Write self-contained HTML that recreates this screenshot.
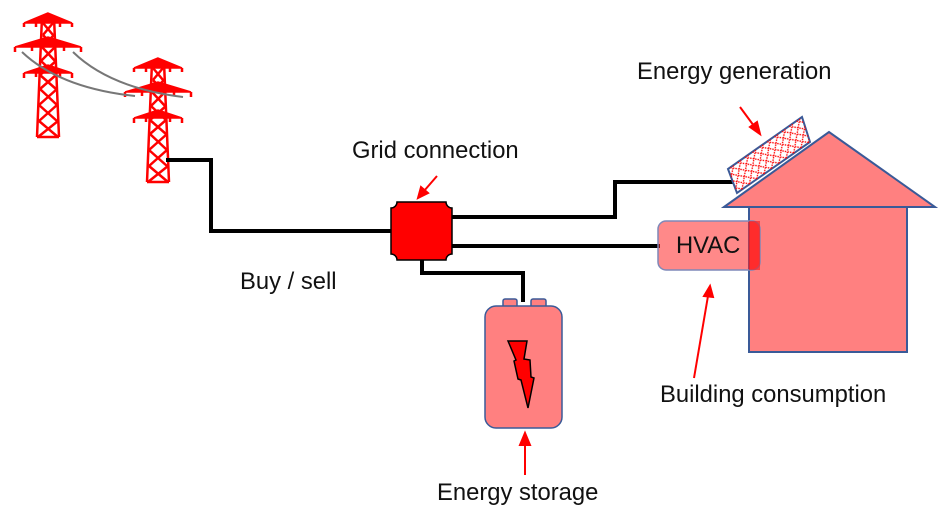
<!DOCTYPE html>
<html><head><style>
body{margin:0;background:#fff;}
svg{display:block}
text{font-family:"Liberation Sans",sans-serif;font-size:23.8px;fill:#111}
</style></head><body>
<svg width="950" height="514" viewBox="0 0 950 514" xmlns="http://www.w3.org/2000/svg">
<defs>
<g id="tw" stroke="#f00" fill="none" stroke-width="2.5">
  <path d="M0,0 L-24,10 L24,10 Z" fill="#f00" stroke-width="1.5"/>
  <path d="M-33,34 L0,24 L33,34 Z" fill="#f00" stroke-width="1.5"/>
  <path d="M-24,60 L0,52 L24,60 Z" fill="#f00" stroke-width="1.5"/>
  <path d="M-6,4 L-11,124 M6,4 L11,124"/>
  <path d="M-5,10 L5,22 M5,10 L-5,22 M-5,22 L6,34 M6,22 L-6,34 M-6,34 L7,48 M7,34 L-7,48 M-7,48 L8,62 M8,48 L-8,62 M-8,62 L8,76 M8,62 L-8,76 M-8,76 L9,92 M9,76 L-9,92 M-9,92 L9,108 M9,92 L-9,108 M-9,108 L10,124 M10,108 L-10,124"/>
  <path d="M-11,124 L11,124 M-24,10 v4 M24,10 v4 M-33,34 v5 M33,34 v5 M-24,60 v5 M24,60 v5 M-12,10 v4 M12,10 v4 M-16,34 v4 M16,34 v4 M-12,60 v4 M12,60 v4"/>
</g>
<pattern id="p" width="9" height="9" patternUnits="userSpaceOnUse" patternTransform="rotate(-35)"><path d="M0,0 L9,9 M9,0 L0,9" stroke="#f00" stroke-width="1.3" stroke-dasharray="1.5,1"/></pattern>
</defs>
<use href="#tw" x="48" y="13"/>
<use href="#tw" x="158" y="58"/>
<path d="M22,52 Q60,88 135,96" stroke="#777" stroke-width="2" fill="none"/>
<path d="M73,52 Q110,88 183,97" stroke="#777" stroke-width="2" fill="none"/>

<g stroke="#000" stroke-width="4" fill="none">
<path d="M166,160 H211 V231 H392"/>
<path d="M450,217 H615 V182 H733"/>
<path d="M450,246 H660"/>
<path d="M422,258 V273 H523 V302"/>
</g>

<path d="M397,202 H446 A6,6 0 0 0 452,208 V254 A6,6 0 0 0 446,260 H397 A6,6 0 0 0 391,254 V208 A6,6 0 0 0 397,202 Z" fill="#f00" stroke="#000" stroke-width="1.5"/>

<rect x="503" y="299" width="14" height="9" rx="2" fill="#ff8080" stroke="#3a5a98" stroke-width="1.5"/>
<rect x="531" y="299" width="15" height="9" rx="2" fill="#ff8080" stroke="#3a5a98" stroke-width="1.5"/>
<rect x="485" y="306" width="77" height="122" rx="11" fill="#ff8080" stroke="#3a5a98" stroke-width="1.5"/>
<path d="M508,341 L527,341 L524,359 L530,360 L531,377 L534,378 L528,408 L521,380 L518,379 L514,361 L516,360 Z" fill="#f00" stroke="#000" stroke-width="1.5" stroke-linejoin="miter"/>

<path d="M724,207 L829,132 L935,207 Z" fill="#ff8080" stroke="#3a5a98" stroke-width="2"/>
<rect x="749" y="207" width="158" height="145" fill="#ff8080" stroke="#3a5a98" stroke-width="2"/>
<rect x="658" y="221" width="102" height="49" rx="8" fill="rgba(255,40,40,0.55)" stroke="#7f88b8" stroke-width="1.5"/>
<rect x="749" y="221" width="11" height="49" fill="rgba(255,20,20,0.6)"/>
<text x="676" y="253">HVAC</text>

<path d="M728,169 L802,117 L810,142 L737,193 Z" fill="#fff" stroke="#3a5a98" stroke-width="2"/>
<path d="M728,169 L802,117 L810,142 L737,193 Z" fill="url(#p)"/>

<g stroke="#f00" stroke-width="2" fill="#f00">
<line x1="740" y1="107" x2="754" y2="126"/><path d="M760,134 L750,127 L757,122 Z"/>
<line x1="437" y1="176" x2="424" y2="191"/><path d="M418,198 L421,187 L428,193 Z"/>
<line x1="694" y1="378" x2="708" y2="296"/><path d="M710,286 L713,297 L704,296 Z"/>
<line x1="525" y1="475" x2="525" y2="444"/><path d="M525,433 L530,445 L520,445 Z"/>
</g>

<text x="637" y="79">Energy generation</text>
<text x="352" y="158">Grid connection</text>
<text x="240" y="289">Buy / sell</text>
<text x="660" y="402">Building consumption</text>
<text x="437" y="500">Energy storage</text>
</svg>
</body></html>
